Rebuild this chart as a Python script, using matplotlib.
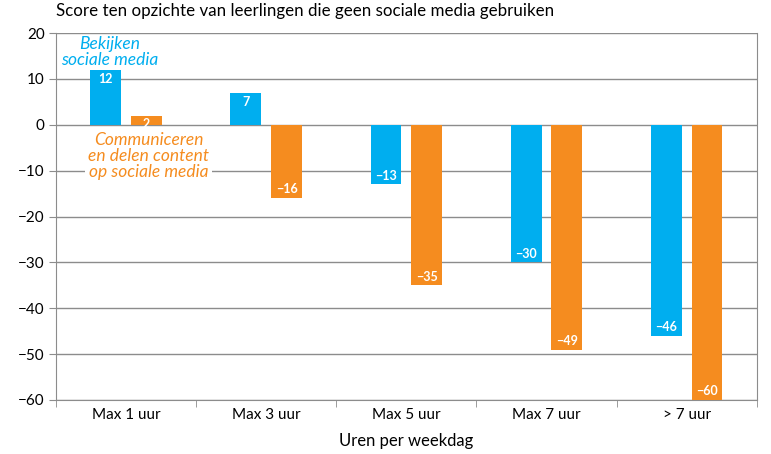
import matplotlib
matplotlib.use("agg")
import matplotlib.pyplot as plt
import numpy as np

categories = ["Max 1 uur", "Max 3 uur", "Max 5 uur", "Max 7 uur", "> 7 uur"]
bekijken = [12, 7, -13, -30, -46]
communiceren = [2, -16, -35, -49, -60]

blue = "#00AEEF"
orange = "#F58C1F"
grid = "#8c8c8c"

plt.rcParams['font.family'] = ['Lato', 'DejaVu Sans']

fig = plt.figure(figsize=(7.71, 4.54), dpi=100)
ax = fig.add_axes([0.0726, 0.119, 0.909, 0.808])

x = np.arange(len(categories))
w = 0.22
off = 0.145
ax.bar(x - off, bekijken, w, color=blue, zorder=3)
ax.bar(x + off, communiceren, w, color=orange, zorder=3)

# value labels inside bar ends
for xs, vals in ((x - off, bekijken), (x + off, communiceren)):
    for xi, v in zip(xs, vals):
        lab = str(v).replace("-", "\u2212")
        if v >= 0:
            ax.text(xi, v - 0.6, lab, ha="center", va="top", color="white",
                    fontsize=9, fontweight="bold", zorder=4)
        else:
            ax.text(xi, v + 0.6, lab, ha="center", va="bottom", color="white",
                    fontsize=9, fontweight="bold", zorder=4)

ax.set_xlim(-0.5, 4.5)
ax.set_ylim(-60, 20)
ax.set_yticks(np.arange(-60, 21, 10))
ax.set_yticklabels([str(t).replace("-", "\u2212") for t in range(-60, 21, 10)])
ax.yaxis.grid(True, color=grid, linewidth=1, zorder=0)
ax.set_xticks(x)
ax.set_xticklabels(categories)
ax.set_xticks(np.arange(-0.5, 5, 1), minor=True)
ax.tick_params(axis="x", which="major", length=0, pad=6, labelsize=11)
ax.tick_params(axis="x", which="minor", length=5, color=grid)
ax.tick_params(axis="y", length=5, color=grid, labelsize=11, pad=3)
for s in ("left", "right", "bottom"):
    ax.spines[s].set_color(grid)
ax.spines["top"].set_visible(False)

ax.text(-0.5, 23.0, "Score ten opzichte van leerlingen die geen sociale media gebruiken",
        fontsize=12.2, ha="left", va="bottom")
ax.set_xlabel("Uren per weekdag", fontsize=12, labelpad=8)

ax.text(-0.12, 15.9, "Bekijken\nsociale media", color=blue, style="italic",
        fontsize=12.5, ha="center", va="center", linespacing=0.95, zorder=5)
ax.text(0.16, -6.8, "Communiceren\nen delen content\nop sociale media", color=orange,
        style="italic", fontsize=12.5, ha="center", va="center", linespacing=1.0,
        bbox=dict(facecolor="white", edgecolor="none", pad=2), zorder=5)

plt.savefig("out.png", dpi=100)
